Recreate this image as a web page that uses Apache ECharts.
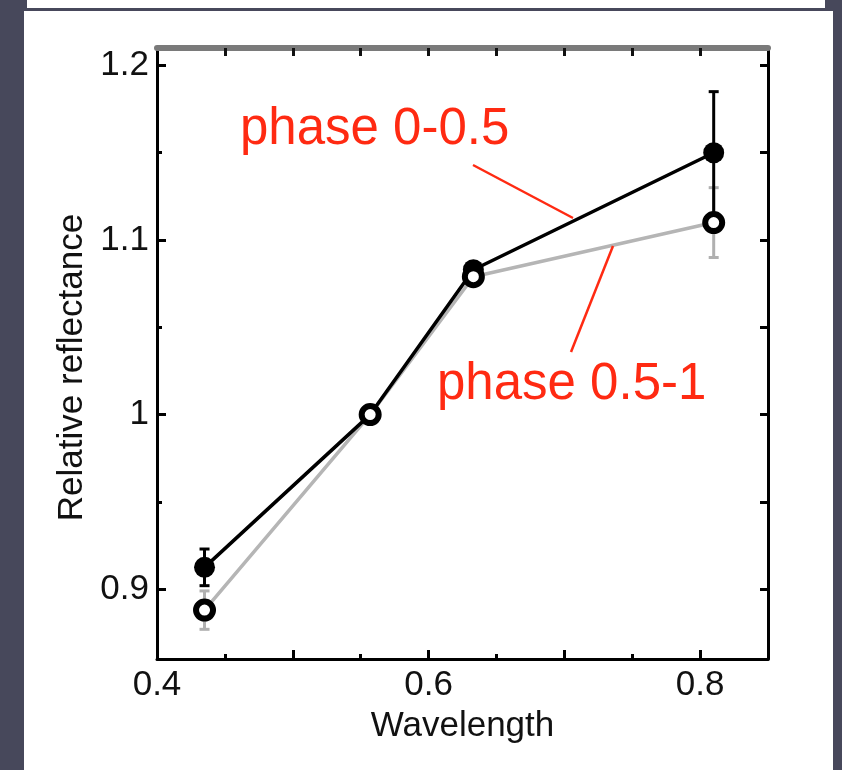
<!DOCTYPE html>
<html>
<head>
<meta charset="utf-8">
<title>Relative reflectance</title>
<script src="https://cdn.jsdelivr.net/npm/echarts@6/dist/echarts.min.js"></script>
<style>
  html, body { margin: 0; padding: 0; background: #47485b; }
  #wrap { position: relative; width: 842px; height: 770px; overflow: hidden; }
  #strip { position: absolute; left: 27px; top: 0; width: 798px; height: 8px; background: #fff; }
  #panel { position: absolute; left: 24px; top: 11px; width: 809px; height: 759px; background: #fff; }
  #chart { position: absolute; left: 0; top: 0; width: 842px; height: 770px; }
</style>
</head>
<body>
<div id="wrap">
  <div id="strip"></div>
  <div id="panel"></div>
  <div id="chart"></div>
</div>
<script>
// wavelength (micron) of each band
const wavelengths = [0.435, 0.557, 0.633, 0.81];

// phase 0-0.5 : filled circles, black line
const phaseA = [0.9125, 1.0, 1.083, 1.15];
const phaseAErr = [0.0105, 0.003, 0.004, 0.035];

// phase 0.5-1 : open circles, grey line
const phaseB = [0.888, 1.0, 1.079, 1.11];
const phaseBErr = [0.011, 0.003, 0.005, 0.02];

// ticks and labels
const xMinorTicks = [0.45, 0.55, 0.65, 0.75];
const xMajorTicks = [0.5, 0.6, 0.7, 0.8];
const xAllTicks = [0.45, 0.5, 0.55, 0.6, 0.65, 0.7, 0.75, 0.8];
const xLabels = [0.4, 0.6, 0.8];
const yMajorTicks = [0.9, 1.0, 1.1, 1.2];
const yMinorTicks = [0.95, 1.05, 1.15];
const yAllTicks = [0.9, 0.95, 1.0, 1.05, 1.1, 1.15, 1.2];
const yLabels = [0.9, 1.0, 1.1, 1.2];

const FONT = '"Liberation Sans", Arial, sans-serif';
const RED = '#ff2a12';
const INK = '#111';

function pairs(xs, ys) {
  return xs.map((x, i) => [x, ys[i]]);
}
function triples(xs, ys, es) {
  return xs.map((x, i) => [x, ys[i], es[i]]);
}

// vertical error bar with small caps
function errorBar(color) {
  return function (params, api) {
    const x = api.value(0), y = api.value(1), e = api.value(2);
    const top = api.coord([x, y + e]);
    const bot = api.coord([x, y - e]);
    const half = 5;
    const st = { stroke: color, lineWidth: 3 };
    return {
      type: 'group',
      children: [
        { type: 'line', shape: { x1: top[0], y1: top[1], x2: bot[0], y2: bot[1] }, style: st },
        { type: 'line', shape: { x1: top[0] - half, y1: top[1], x2: top[0] + half, y2: top[1] }, style: st },
        { type: 'line', shape: { x1: bot[0] - half, y1: bot[1], x2: bot[0] + half, y2: bot[1] }, style: st }
      ]
    };
  };
}

const chart = echarts.init(document.getElementById('chart'));

const xBase = { type: 'value', min: 0.4, max: 0.85, splitLine: { show: false } };
const yBase = { type: 'value', min: 0.86, max: 1.21, splitLine: { show: false } };

const option = {
  animation: false,
  backgroundColor: 'transparent',
  grid: { left: 157, right: 74, top: 48, bottom: 111 },
  xAxis: [
    Object.assign({}, xBase, {
      position: 'bottom',
      axisLine: { lineStyle: { color: '#000', width: 3 } },
      axisTick: { inside: true, length: 5, customValues: xMinorTicks, lineStyle: { color: '#000', width: 3 } },
      axisLabel: {
        customValues: xLabels, margin: 9, color: INK, fontSize: 35, fontFamily: FONT,
        formatter: v => v.toFixed(1)
      },
      name: 'Wavelength', nameLocation: 'middle', nameGap: 50,
      nameTextStyle: { color: INK, fontSize: 35, fontFamily: FONT }
    }),
    Object.assign({}, xBase, {
      position: 'bottom',
      axisLine: { show: false },
      axisTick: { inside: true, length: 9, customValues: xMajorTicks, lineStyle: { color: '#000', width: 3 } },
      axisLabel: { show: false }
    }),
    Object.assign({}, xBase, {
      position: 'top',
      axisLine: { lineStyle: { color: '#7a7a7a', width: 6 } },
      axisTick: { inside: true, length: 8, customValues: xAllTicks, lineStyle: { color: '#111', width: 3 } },
      axisLabel: { show: false }
    })
  ],
  yAxis: [
    Object.assign({}, yBase, {
      position: 'left',
      axisLine: { lineStyle: { color: '#000', width: 3 } },
      axisTick: { inside: true, length: 9, customValues: yMajorTicks, lineStyle: { color: '#000', width: 3 } },
      axisLabel: {
        customValues: yLabels, margin: 8, color: INK, fontSize: 35, fontFamily: FONT,
        formatter: v => (Math.abs(v - 1) < 1e-9 ? '1' : String(+v.toFixed(2)))
      },
      name: 'Relative reflectance', nameLocation: 'middle', nameGap: 62, nameRotate: 90,
      nameTextStyle: { color: INK, fontSize: 35, fontFamily: FONT, padding: [0, 28, 0, 0] }
    }),
    Object.assign({}, yBase, {
      position: 'left',
      axisLine: { show: false },
      axisTick: { inside: true, length: 5, customValues: yMinorTicks, lineStyle: { color: '#000', width: 3 } },
      axisLabel: { show: false }
    }),
    Object.assign({}, yBase, {
      position: 'right',
      axisLine: { lineStyle: { color: '#000', width: 3 } },
      axisTick: { inside: true, length: 8, customValues: yAllTicks, lineStyle: { color: '#000', width: 3 } },
      axisLabel: { show: false }
    })
  ],
  series: [
    {
      name: 'phase 0.5-1 line', type: 'line', z: 2,
      data: pairs(wavelengths, phaseB), symbol: 'none',
      lineStyle: { color: '#b5b5b5', width: 3.5 }
    },
    {
      name: 'phase 0.5-1 error', type: 'custom', z: 2,
      data: triples(wavelengths, phaseB, phaseBErr),
      encode: { x: 0, y: 1 },
      renderItem: errorBar('#b0b0b0')
    },
    {
      name: 'phase 0-0.5 line', type: 'line', z: 3,
      data: pairs(wavelengths, phaseA), symbol: 'none',
      lineStyle: { color: '#000', width: 3.5 }
    },
    {
      name: 'phase 0-0.5 error', type: 'custom', z: 4,
      data: triples(wavelengths, phaseA, phaseAErr),
      encode: { x: 0, y: 1 },
      renderItem: errorBar('#000')
    },
    {
      name: 'phase 0-0.5', type: 'scatter', z: 5,
      data: pairs(wavelengths, phaseA), symbol: 'circle', symbolSize: 21,
      itemStyle: { color: '#000', opacity: 1 }
    },
    {
      name: 'phase 0.5-1', type: 'scatter', z: 6,
      data: pairs(wavelengths, phaseB), symbol: 'circle', symbolSize: 17,
      itemStyle: { color: '#fff', borderColor: '#000', borderWidth: 6, opacity: 1 }
    }
  ],
  graphic: [
    {
      type: 'text', left: 240, top: 104, z: 10,
      style: { text: 'phase 0-0.5', fill: RED, font: '51px ' + FONT }
    },
    {
      type: 'line', z: 10,
      shape: { x1: 473, y1: 165, x2: 573, y2: 218 },
      style: { stroke: RED, lineWidth: 2.5 }
    },
    {
      type: 'text', left: 437, top: 359, z: 10,
      style: { text: 'phase 0.5-1', fill: RED, font: '51px ' + FONT }
    },
    {
      type: 'line', z: 10,
      shape: { x1: 613, y1: 246, x2: 571, y2: 352 },
      style: { stroke: RED, lineWidth: 2.5 }
    }
  ]
};

chart.setOption(option);
</script>
</body>
</html>
